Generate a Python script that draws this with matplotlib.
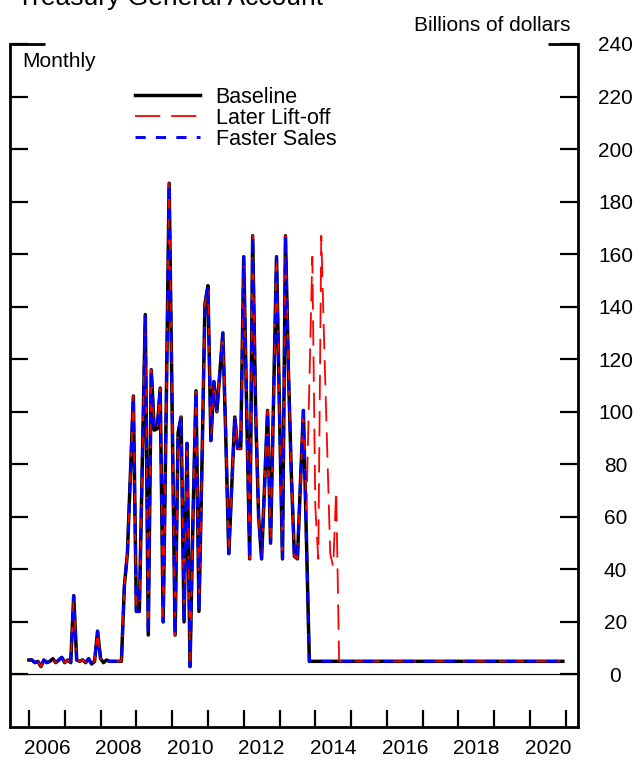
import numpy as np
import matplotlib
matplotlib.use('Agg')
import matplotlib.pyplot as plt

plt.rcParams['font.family'] = ['Liberation Sans', 'DejaVu Sans']

# monthly values, Jan 2006 - Dec 2020, billions of dollars
baseline = [
    5.5, 5.5, 4.5, 5.0, 3.0, 5.5, 4.5, 5.0, 6.0, 4.5, 5.5, 6.5,             # 2006
    4.5, 5.5, 4.5, 30.0, 5.5, 5.0, 5.5, 4.5, 6.0, 4.0, 5.0, 16.5,           # 2007
    6.0, 4.5, 5.5, 5.0, 5.0, 5.0, 5.0, 5.0, 34.0, 46.0, 76.0, 106.0,        # 2008
    24.0, 24.0, 80.0, 137.0, 15.0, 116.0, 93.0, 93.5, 109.0, 20.0, 100.0, 187.0,  # 2009
    100.0, 15.0, 92.0, 98.0, 20.0, 88.0, 3.0, 60.0, 108.0, 24.0, 80.0, 141.0,     # 2010
    148.0, 89.0, 111.5, 100.0, 115.0, 130.0, 90.0, 46.0, 72.0, 98.0, 86.0, 86.0,  # 2011
    159.0, 100.0, 44.0, 167.0, 100.0, 60.0, 44.0, 72.0, 100.5, 50.0, 105.0, 159.0,  # 2012
    100.0, 44.0, 167.0, 115.0, 75.0, 45.0, 44.0, 72.0, 100.5, 52.0, 5.0, 5.0,     # 2013
    5.0, 5.0, 5.0, 5.0, 5.0, 5.0, 5.0, 5.0, 5.0, 5.0, 5.0, 5.0,             # 2014
    5.0, 5.0, 5.0, 5.0, 5.0, 5.0, 5.0, 5.0, 5.0, 5.0, 5.0, 5.0,             # 2015
    5.0, 5.0, 5.0, 5.0, 5.0, 5.0, 5.0, 5.0, 5.0, 5.0, 5.0, 5.0,             # 2016
    5.0, 5.0, 5.0, 5.0, 5.0, 5.0, 5.0, 5.0, 5.0, 5.0, 5.0, 5.0,             # 2017
    5.0, 5.0, 5.0, 5.0, 5.0, 5.0, 5.0, 5.0, 5.0, 5.0, 5.0, 5.0,             # 2018
    5.0, 5.0, 5.0, 5.0, 5.0, 5.0, 5.0, 5.0, 5.0, 5.0, 5.0, 5.0,             # 2019
    5.0, 5.0, 5.0, 5.0, 5.0, 5.0, 5.0, 5.0, 5.0, 5.0, 5.0, 5.0,             # 2020
]

later_liftoff = baseline[:93] + [
    62.0, 110.0, 159.0,                                                     # 2013 Q4
    64.0, 44.0, 167.0, 125.0, 85.0, 46.0, 41.0, 70.0, 5.0, 5.0, 5.0, 5.0,   # 2014
] + baseline[108:]

# same path as baseline in the picture
faster_sales = list(baseline)

dates = 2006 + np.arange(len(baseline)) / 12.0

year_ticks = list(range(2006, 2022))
label_pos = [2006.5, 2008.5, 2010.5, 2012.5, 2014.5, 2016.5, 2018.5, 2020.5]
label_txt = ['2006', '2008', '2010', '2012', '2014', '2016', '2018', '2020']
y_ticks = list(range(0, 241, 20))

W, H = 642, 765
fig = plt.figure(figsize=(W / 100, H / 100), dpi=100)
ax = fig.add_axes([10 / W, 1 - 727 / H, 568 / W, 683 / H])

l1, = ax.plot(dates, baseline, color='black', lw=2.5, label='Baseline')
l2, = ax.plot(dates, later_liftoff, color='red', lw=1.3, dashes=(14, 6), label='Later Lift-off')
l3, = ax.plot(dates, faster_sales, color='blue', lw=2.1, dashes=(3.5, 3.5), label='Faster Sales')

ax.axhline(0, color='black', lw=0.9)

ax.set_xlim(2005.47, 2021.34)
ax.set_ylim(-20, 240)

ax.spines['top'].set_visible(False)
for s in ['left', 'right', 'bottom']:
    ax.spines[s].set_linewidth(2)

ax.set_yticks(y_ticks)
ax.tick_params(axis='y', which='major', direction='in', length=13, width=1.6,
               left=True, right=True, labelleft=False, labelright=True,
               labelsize=15, pad=27)
for t in ax.yaxis.get_major_ticks():
    t.label2.set_horizontalalignment('center')

ax.set_xticks(year_ticks, labels=[''] * len(year_ticks))
ax.set_xticks(label_pos, minor=True)
ax.set_xticklabels(label_txt, minor=True)
ax.tick_params(axis='x', which='major', direction='in', length=12, width=1.6)
ax.tick_params(axis='x', which='minor', length=0, labelsize=15, pad=9)

# longer marks at the top corners
ax.plot([0, 35 / 568], [1, 1], transform=ax.transAxes, color='black', lw=2,
        clip_on=False, solid_capstyle='butt')
ax.plot([1 - 30 / 568, 1], [1, 1], transform=ax.transAxes, color='black', lw=2,
        clip_on=False, solid_capstyle='butt')

ax.text(12 / 568, 1 - 18 / 683, 'Monthly', transform=ax.transAxes,
        ha='left', va='center', fontsize=15)

ax.legend(handles=[l1, l2, l3], loc='upper left', bbox_to_anchor=(0.22, 0.937),
          frameon=False, fontsize=15.5, handlelength=3.0, handletextpad=0.75,
          labelspacing=0.0, borderpad=0, borderaxespad=0)

fig.text(571 / W, 1 - 31 / H, 'Billions of dollars', ha='right', va='baseline', fontsize=15)
fig.text(17 / W, 1 - 5 / H, 'Treasury General Account', ha='left', va='baseline', fontsize=19)

fig.savefig('out.png', dpi=100)
